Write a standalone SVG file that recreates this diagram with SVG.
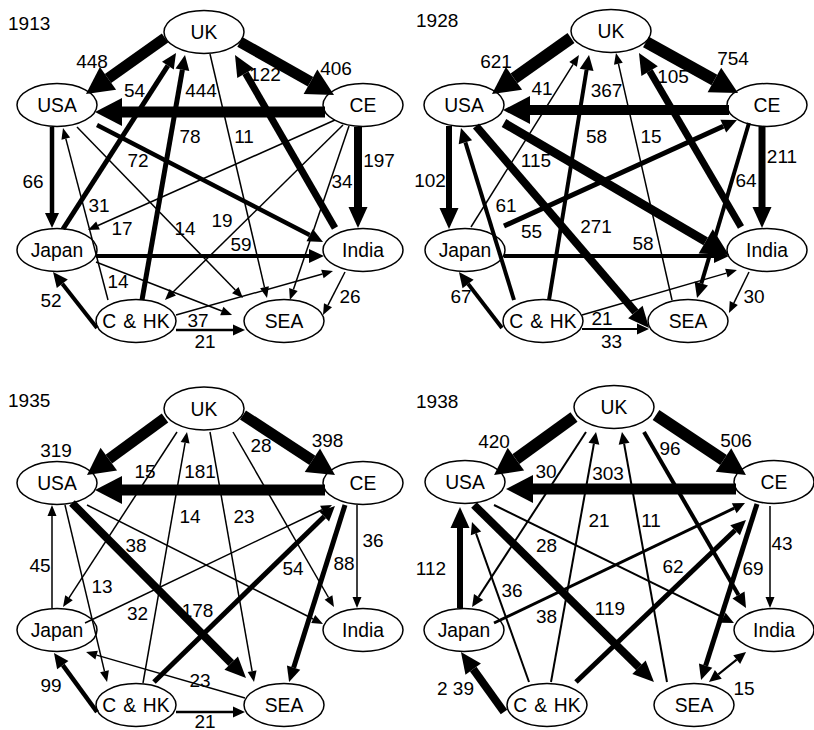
<svg xmlns="http://www.w3.org/2000/svg" width="814" height="730" viewBox="0 0 814 730">
<defs>
<style>
.e{stroke:#000;fill:none;stroke-linecap:butt}
.n ellipse{fill:#fff;stroke:#000;stroke-width:1.5}
.n text{font-family:"Liberation Sans",Arial,Helvetica,sans-serif;font-size:19.3px;text-anchor:middle;fill:#000}
.n text.chk{word-spacing:1.5px}
.lb text{font-family:"Liberation Sans",Arial,Helvetica,sans-serif;font-size:19px;text-anchor:middle;fill:#000}
.yr{font-family:"Liberation Sans",Arial,Helvetica,sans-serif;font-size:19px;fill:#000}
</style>
<marker id="as" markerUnits="userSpaceOnUse" orient="auto" refX="0" refY="0" markerWidth="11" markerHeight="9" viewBox="0 -4.5 11 9" overflow="visible"><path d="M0,-4.5L11,0L0,4.5Z"/></marker>
<marker id="am" markerUnits="userSpaceOnUse" orient="auto" refX="0" refY="0" markerWidth="12" markerHeight="11" viewBox="0 -5.5 12 11" overflow="visible"><path d="M0,-5.5L12,0L0,5.5Z"/></marker>
<marker id="ams" markerUnits="userSpaceOnUse" orient="auto-start-reverse" refX="0" refY="0" markerWidth="12" markerHeight="11" viewBox="0 -5.5 12 11" overflow="visible"><path d="M0,-5.5L12,0L0,5.5Z"/></marker>
<marker id="al" markerUnits="userSpaceOnUse" orient="auto" refX="0" refY="0" markerWidth="15" markerHeight="14" viewBox="0 -7 15 14" overflow="visible"><path d="M0,-7L15,0L0,7Z"/></marker>
<marker id="axl" markerUnits="userSpaceOnUse" orient="auto" refX="0" refY="0" markerWidth="21" markerHeight="19" viewBox="0 -9.5 21 19" overflow="visible"><path d="M0,-9.5L21,0L0,9.5Z"/></marker>
<marker id="axxl" markerUnits="userSpaceOnUse" orient="auto" refX="0" refY="0" markerWidth="27" markerHeight="28" viewBox="0 -14 27 28" overflow="visible"><path d="M0,-14L27,0L0,14Z"/></marker>
</defs>
<rect width="814" height="730" fill="#fff"/>

<!-- ===== 1913 ===== -->
<g id="panel-1913">
<text class="yr" x="8" y="30">1913</text>
<g class="n">
<g id="p1913-UK"><ellipse cx="204" cy="32" rx="40" ry="21.5"/><text x="204" y="39">UK</text></g>
<g id="p1913-USA"><ellipse cx="57" cy="105" rx="40" ry="21.5"/><text x="57" y="112">USA</text></g>
<g id="p1913-CE"><ellipse cx="363" cy="105" rx="40" ry="21.5"/><text x="363" y="112">CE</text></g>
<g id="p1913-Japan"><ellipse cx="57" cy="250" rx="40" ry="21.5"/><text x="57" y="257">Japan</text></g>
<g id="p1913-India"><ellipse cx="363" cy="250" rx="40" ry="21.5"/><text x="363" y="257">India</text></g>
<g id="p1913-CHK"><ellipse cx="136" cy="321" rx="40" ry="21.5"/><text class="chk" x="136" y="328">C &amp; HK</text></g>
<g id="p1913-SEA"><ellipse cx="284" cy="321" rx="40" ry="21.5"/><text x="284" y="328">SEA</text></g>
</g>
<g id="edges-1913" class="e">
<line x1="165" y1="38" x2="108" y2="78.4" stroke-width="11" marker-end="url(#axxl)"/>
<line x1="240" y1="42" x2="310.5" y2="81.7" stroke-width="11" marker-end="url(#axxl)"/>
<line x1="325" y1="112" x2="122" y2="112" stroke-width="11" marker-end="url(#axxl)"/>
<line x1="63" y1="229" x2="167.9" y2="65.6" stroke-width="5" marker-end="url(#al)"/>
<line x1="142" y1="300" x2="182.4" y2="69.8" stroke-width="5" marker-end="url(#al)"/>
<line x1="210" y1="54" x2="264.5" y2="287.3" stroke-width="1.5" marker-end="url(#as)"/>
<line x1="335" y1="228" x2="245.5" y2="73.2" stroke-width="7" marker-end="url(#axl)"/>
<line x1="358" y1="127" x2="358" y2="207" stroke-width="8" marker-end="url(#axl)"/>
<line x1="349" y1="126" x2="293.4" y2="289.5" stroke-width="1.5" marker-end="url(#as)"/>
<line x1="52" y1="127" x2="52" y2="213" stroke-width="4.5" marker-end="url(#al)"/>
<line x1="97" y1="125" x2="309.7" y2="235.1" stroke-width="4.5" marker-end="url(#al)"/>
<line x1="108" y1="300" x2="65.8" y2="138.6" stroke-width="1.5" marker-end="url(#as)"/>
<line x1="335" y1="120" x2="98" y2="225.5" stroke-width="1.5" marker-end="url(#as)"/>
<line x1="77" y1="127" x2="235.3" y2="290.1" stroke-width="1.5" marker-end="url(#as)"/>
<line x1="343" y1="125" x2="172.8" y2="292.3" stroke-width="1.5" marker-end="url(#as)"/>
<line x1="96" y1="256" x2="309" y2="256" stroke-width="4" marker-end="url(#al)"/>
<line x1="96" y1="262" x2="221.8" y2="311" stroke-width="1.5" marker-end="url(#as)"/>
<line x1="97" y1="328" x2="62.3" y2="283.8" stroke-width="4" marker-end="url(#al)"/>
<line x1="176" y1="315" x2="322.4" y2="274" stroke-width="1.5" marker-end="url(#as)"/>
<line x1="176" y1="330" x2="233" y2="330" stroke-width="2.5" marker-end="url(#am)"/>
<line x1="345" y1="272" x2="328" y2="305.2" stroke-width="1.5" marker-end="url(#as)"/>
</g>
<g id="labels-1913" class="lb">
<text x="92" y="68">448</text><text x="336" y="75">406</text><text x="134.5" y="97">54</text><text x="201" y="97">444</text>
<text x="265" y="81">122</text><text x="190" y="143">78</text><text x="244" y="143">11</text><text x="138" y="167">72</text>
<text x="379" y="167">197</text><text x="33" y="188">66</text><text x="342" y="188">34</text><text x="99" y="212">31</text>
<text x="122" y="235">17</text><text x="185" y="235">14</text><text x="222" y="227">19</text><text x="241" y="251">59</text>
<text x="118" y="288">14</text><text x="51" y="307">52</text><text x="350" y="303">26</text><text x="198" y="327">37</text>
<text x="205" y="348">21</text>
</g>
</g>

<!-- ===== 1928 ===== -->
<g id="panel-1928" transform="translate(406,0)">
<text class="yr" x="10" y="27">1928</text>
<g class="n">
<g id="p1928-UK"><ellipse cx="205" cy="31" rx="40" ry="21.5"/><text x="205" y="38">UK</text></g>
<g id="p1928-USA"><ellipse cx="58" cy="105" rx="40" ry="21.5"/><text x="58" y="112">USA</text></g>
<g id="p1928-CE"><ellipse cx="361" cy="105" rx="40" ry="21.5"/><text x="361" y="112">CE</text></g>
<g id="p1928-Japan"><ellipse cx="59" cy="250" rx="40" ry="21.5"/><text x="59" y="257">Japan</text></g>
<g id="p1928-India"><ellipse cx="361" cy="250" rx="40" ry="21.5"/><text x="361" y="257">India</text></g>
<g id="p1928-CHK"><ellipse cx="137" cy="321" rx="40" ry="21.5"/><text class="chk" x="137" y="328">C &amp; HK</text></g>
<g id="p1928-SEA"><ellipse cx="282" cy="321" rx="40" ry="21.5"/><text x="282" y="328">SEA</text></g>
</g>
<g id="edges-1928" class="e">
<line x1="165" y1="38" x2="108" y2="78.4" stroke-width="12" marker-end="url(#axxl)"/>
<line x1="240" y1="42" x2="308.4" y2="79.9" stroke-width="12" marker-end="url(#axxl)"/>
<line x1="323" y1="110" x2="124" y2="110" stroke-width="10" marker-end="url(#axxl)"/>
<line x1="65" y1="227" x2="167.1" y2="64.3" stroke-width="1.5" marker-end="url(#as)"/>
<line x1="143" y1="300" x2="180.6" y2="69.8" stroke-width="4" marker-end="url(#al)"/>
<line x1="266" y1="300" x2="212.4" y2="63.7" stroke-width="1.5" marker-end="url(#as)"/>
<line x1="335" y1="227" x2="243.6" y2="71.1" stroke-width="7" marker-end="url(#axl)"/>
<line x1="356" y1="126" x2="356" y2="207" stroke-width="7" marker-end="url(#axl)"/>
<line x1="343" y1="123" x2="295.3" y2="283.6" stroke-width="4" marker-end="url(#al)"/>
<line x1="43" y1="126" x2="43" y2="208" stroke-width="6" marker-end="url(#axl)"/>
<line x1="70" y1="126" x2="229.4" y2="312" stroke-width="8" marker-end="url(#axl)"/>
<line x1="98" y1="123" x2="299.7" y2="241.3" stroke-width="9" marker-end="url(#axxl)"/>
<line x1="108" y1="300" x2="59.4" y2="142.3" stroke-width="4" marker-end="url(#al)"/>
<line x1="98" y1="226" x2="317.3" y2="126.2" stroke-width="5" marker-end="url(#al)"/>
<line x1="98" y1="256" x2="308" y2="256" stroke-width="4" marker-end="url(#al)"/>
<line x1="96" y1="328" x2="62.1" y2="283.9" stroke-width="4" marker-end="url(#al)"/>
<line x1="176" y1="315" x2="320.4" y2="273.1" stroke-width="1.5" marker-end="url(#as)"/>
<line x1="176" y1="329" x2="231" y2="329" stroke-width="2" marker-end="url(#am)"/>
<line x1="343" y1="272" x2="327.8" y2="303.1" stroke-width="1.5" marker-end="url(#as)"/>
</g>
<g id="labels-1928" class="lb">
<text x="90" y="68">621</text><text x="327" y="65">754</text><text x="136" y="95">41</text><text x="200.5" y="97">367</text>
<text x="267" y="83">105</text><text x="190.5" y="143">58</text><text x="245" y="143">15</text><text x="130" y="167">115</text>
<text x="376" y="163">211</text><text x="24" y="187">102</text><text x="340" y="187">64</text><text x="100" y="212">61</text>
<text x="125.5" y="238">55</text><text x="190" y="233">271</text><text x="237" y="250">58</text><text x="55" y="303">67</text>
<text x="348" y="303">30</text><text x="196" y="325">21</text><text x="205.5" y="348">33</text>
</g>
</g>

<!-- ===== 1935 ===== -->
<g id="panel-1935" transform="translate(0,378)">
<text class="yr" x="8" y="29">1935</text>
<g class="n">
<g id="p1935-UK"><ellipse cx="204" cy="30.5" rx="40" ry="21.5"/><text x="204" y="37.5">UK</text></g>
<g id="p1935-USA"><ellipse cx="57" cy="105" rx="40" ry="21.5"/><text x="57" y="112">USA</text></g>
<g id="p1935-CE"><ellipse cx="363" cy="105" rx="40" ry="21.5"/><text x="363" y="112">CE</text></g>
<g id="p1935-Japan"><ellipse cx="57" cy="252" rx="40" ry="21.5"/><text x="57" y="259">Japan</text></g>
<g id="p1935-India"><ellipse cx="363" cy="252" rx="40" ry="21.5"/><text x="363" y="259">India</text></g>
<g id="p1935-CHK"><ellipse cx="136" cy="327" rx="40" ry="21.5"/><text class="chk" x="136" y="334">C &amp; HK</text></g>
<g id="p1935-SEA"><ellipse cx="284" cy="327" rx="40" ry="21.5"/><text x="284" y="334">SEA</text></g>
</g>
<g id="edges-1935" class="e">
<line x1="165" y1="40" x2="108.8" y2="81.1" stroke-width="11" marker-end="url(#axxl)"/>
<line x1="243" y1="37" x2="312.4" y2="82.3" stroke-width="11" marker-end="url(#axxl)"/>
<line x1="325" y1="112" x2="122" y2="112" stroke-width="11" marker-end="url(#axxl)"/>
<line x1="177" y1="54" x2="69" y2="219.8" stroke-width="1.5" marker-end="url(#as)"/>
<line x1="143" y1="305" x2="185.1" y2="64.8" stroke-width="1.5" marker-end="url(#as)"/>
<line x1="210" y1="54" x2="252.1" y2="293.2" stroke-width="1.5" marker-end="url(#as)"/>
<line x1="233" y1="54" x2="328.5" y2="219.5" stroke-width="1.5" marker-end="url(#as)"/>
<line x1="357" y1="127" x2="357" y2="219" stroke-width="1.5" marker-end="url(#as)"/>
<line x1="345" y1="127" x2="293.6" y2="289.7" stroke-width="5" marker-end="url(#al)"/>
<line x1="154" y1="304" x2="324.2" y2="138.5" stroke-width="5" marker-end="url(#al)"/>
<line x1="85" y1="245" x2="322.1" y2="131.7" stroke-width="1.5" marker-end="url(#as)"/>
<line x1="52" y1="230" x2="52" y2="138" stroke-width="1.5" marker-end="url(#as)"/>
<line x1="65" y1="127" x2="104.5" y2="293.3" stroke-width="1.5" marker-end="url(#as)"/>
<line x1="72" y1="125" x2="231.2" y2="285.1" stroke-width="8" marker-end="url(#axl)"/>
<line x1="87" y1="127" x2="313.2" y2="241" stroke-width="1.5" marker-end="url(#as)"/>
<line x1="245" y1="320" x2="96.6" y2="277.1" stroke-width="1.5" marker-end="url(#as)"/>
<line x1="97" y1="334" x2="62.8" y2="287.1" stroke-width="4.5" marker-end="url(#al)"/>
<line x1="176" y1="334" x2="233" y2="334" stroke-width="2.5" marker-end="url(#am)"/>
</g>
<g id="labels-1935" class="lb">
<text x="56" y="79">319</text><text x="327.5" y="69">398</text><text x="145" y="100">15</text><text x="200" y="100">181</text>
<text x="261" y="74">28</text><text x="190" y="145">14</text><text x="244" y="145">23</text><text x="373" y="169">36</text>
<text x="136" y="174">38</text><text x="40" y="194">45</text><text x="344" y="192">88</text><text x="293" y="197">54</text>
<text x="102" y="215">13</text><text x="137.5" y="242">32</text><text x="197.5" y="239">178</text><text x="200" y="309">23</text>
<text x="51" y="314">99</text><text x="205" y="349.5">21</text>
</g>
</g>

<!-- ===== 1938 ===== -->
<g id="panel-1938" transform="translate(409,377)">
<text class="yr" x="7" y="31">1938</text>
<g class="n">
<g id="p1938-UK"><ellipse cx="205" cy="30" rx="40" ry="21.5"/><text x="205" y="37">UK</text></g>
<g id="p1938-USA"><ellipse cx="56" cy="105" rx="40" ry="21.5"/><text x="56" y="112">USA</text></g>
<g id="p1938-CE"><ellipse cx="365" cy="105" rx="40" ry="21.5"/><text x="365" y="112">CE</text></g>
<g id="p1938-Japan"><ellipse cx="55" cy="253" rx="40" ry="21.5"/><text x="55" y="260">Japan</text></g>
<g id="p1938-India"><ellipse cx="365" cy="253" rx="40" ry="21.5"/><text x="365" y="260">India</text></g>
<g id="p1938-CHK"><ellipse cx="138" cy="328" rx="40" ry="21.5"/><text class="chk" x="138" y="335">C &amp; HK</text></g>
<g id="p1938-SEA"><ellipse cx="285" cy="328" rx="40" ry="21.5"/><text x="285" y="335">SEA</text></g>
</g>
<g id="edges-1938" class="e">
<line x1="165" y1="40" x2="106.9" y2="82.2" stroke-width="12" marker-end="url(#axxl)"/>
<line x1="247" y1="38" x2="314.5" y2="83" stroke-width="12" marker-end="url(#axxl)"/>
<line x1="327" y1="112" x2="124" y2="112" stroke-width="11" marker-end="url(#axxl)"/>
<line x1="177" y1="55" x2="69.6" y2="219.9" stroke-width="2" marker-end="url(#am)"/>
<line x1="142" y1="305" x2="184.9" y2="66.8" stroke-width="2" marker-end="url(#am)"/>
<line x1="258" y1="305" x2="215.1" y2="66.8" stroke-width="2" marker-end="url(#am)"/>
<line x1="235" y1="55" x2="329.5" y2="218" stroke-width="4" marker-end="url(#al)"/>
<line x1="361" y1="129" x2="361" y2="220" stroke-width="1.5" marker-end="url(#as)"/>
<line x1="348" y1="127" x2="296.6" y2="288.7" stroke-width="5" marker-end="url(#al)"/>
<line x1="167" y1="305" x2="326.1" y2="153.3" stroke-width="5" marker-end="url(#al)"/>
<line x1="85" y1="246" x2="325.2" y2="131.2" stroke-width="3" marker-end="url(#am)"/>
<line x1="51" y1="231" x2="51" y2="151" stroke-width="6" marker-end="url(#axl)"/>
<line x1="120" y1="305" x2="67" y2="156.3" stroke-width="2" marker-end="url(#am)"/>
<line x1="65" y1="128" x2="230" y2="290.3" stroke-width="8" marker-end="url(#axl)"/>
<line x1="85" y1="128" x2="314.2" y2="240.7" stroke-width="2" marker-end="url(#am)"/>
<line x1="95" y1="335" x2="64.2" y2="292.1" stroke-width="8" marker-end="url(#axl)"/>
<line x1="309.3" y1="297.4" x2="327.7" y2="282.6" stroke-width="2" marker-start="url(#ams)" marker-end="url(#am)"/>
</g>
<g id="labels-1938" class="lb">
<text x="85" y="71">420</text><text x="327" y="70">506</text><text x="137" y="101">30</text><text x="199" y="103">303</text>
<text x="261" y="78">96</text><text x="190" y="150">21</text><text x="242" y="150">11</text><text x="373" y="173">43</text>
<text x="137.5" y="175">28</text><text x="22" y="198">112</text><text x="264" y="196">62</text><text x="344" y="198">69</text>
<text x="103" y="220">36</text><text x="137.5" y="246">38</text><text x="201" y="238">119</text><text x="46.5" y="318">2 39</text>
<text x="335" y="318">15</text>
</g>
</g>
</svg>
